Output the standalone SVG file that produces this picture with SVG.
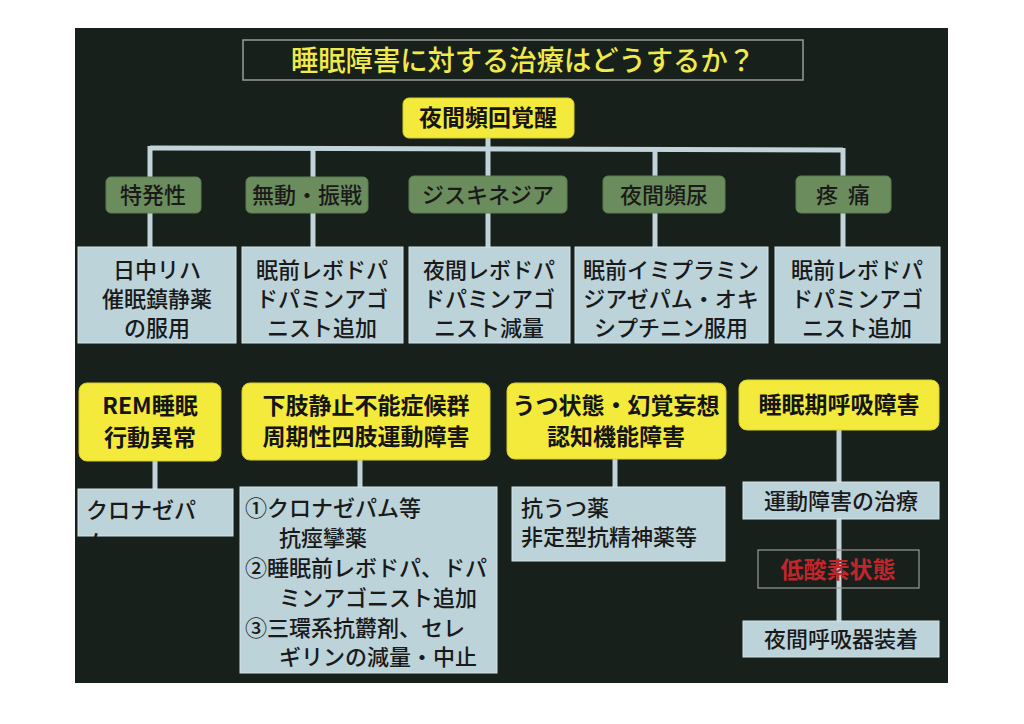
<svg xmlns="http://www.w3.org/2000/svg" width="1024" height="724" viewBox="0 0 1024 724">
<defs>
<style>
.jp{font-family:"Noto Sans CJK JP","Noto Sans CJK SC",sans-serif;}
.conn{stroke:#c3d3da;stroke-width:5;fill:none;}
.yel{fill:#f3ea3b;stroke:#d8cf2a;stroke-width:1;}
.grn{fill:#6b8d5d;stroke:#5d7e50;stroke-width:1;}
.blu{fill:#bcd3da;stroke:#d6e4e8;stroke-width:1;}
.tb{fill:#151515;font-weight:bold;font-size:23px;text-anchor:middle;}
.tg{fill:#1a1a1a;font-size:22px;font-weight:500;text-anchor:middle;}
.tl{fill:#1a1a1a;font-size:22px;font-weight:500;}
.tlc{fill:#1a1a1a;font-size:22px;font-weight:500;text-anchor:middle;}
</style>
<clipPath id="clipK"><rect x="78" y="489" width="155" height="48"/></clipPath>
</defs>
<rect x="0" y="0" width="1024" height="724" fill="#ffffff"/>
<rect x="75" y="28" width="873" height="655" fill="#17201b"/>

<g id="title">
<rect x="243" y="40" width="560" height="40" fill="none" stroke="#9a9a9a" stroke-width="1.5"/>
<text class="jp" x="523" y="71" font-size="28" font-weight="500" fill="#f0ea4a" text-anchor="middle" textLength="464" lengthAdjust="spacingAndGlyphs">睡眠障害に対する治療はどうするか？</text>
</g>

<g id="connectors">
<line class="conn" x1="488" y1="138" x2="488" y2="148"/>
<line class="conn" x1="150" y1="148" x2="843" y2="150"/>
<line class="conn" x1="150" y1="146" x2="150" y2="247"/>
<line class="conn" x1="313" y1="148" x2="313" y2="247"/>
<line class="conn" x1="488" y1="148" x2="488" y2="247"/>
<line class="conn" x1="655" y1="149" x2="655" y2="247"/>
<line class="conn" x1="843" y1="148" x2="843" y2="247"/>
<line class="conn" x1="155" y1="461" x2="155" y2="489"/>
<line class="conn" x1="360" y1="460" x2="360" y2="487"/>
<line class="conn" x1="615" y1="459" x2="615" y2="487"/>
<line class="conn" x1="839" y1="430" x2="839" y2="621"/>
</g>

<g id="n_top">
<rect class="yel" x="403" y="98" width="171" height="40" rx="6"/>
<text class="jp tb" x="488" y="126">夜間頻回覚醒</text>
</g>

<g id="g_tokuhatsu">
<rect class="grn" x="106" y="177" width="95" height="36" rx="5"/>
<text class="jp tg" x="153" y="203">特発性</text>
</g>
<g id="g_mudou">
<rect class="grn" x="246" y="177" width="122" height="36" rx="5"/>
<text class="jp tg" x="307" y="203">無動・振戦</text>
</g>
<g id="g_dysk">
<rect class="grn" x="409" y="176" width="158" height="37" rx="5"/>
<text class="jp tg" x="488" y="203">ジスキネジア</text>
</g>
<g id="g_hinnyo">
<rect class="grn" x="603" y="176" width="122" height="37" rx="5"/>
<text class="jp tg" x="664" y="203">夜間頻尿</text>
</g>
<g id="g_tootsu">
<rect class="grn" x="796" y="176" width="95" height="37" rx="5"/>
<text class="jp tg" x="843" y="203" xml:space="preserve">疼  痛</text>
</g>

<g id="b1">
<rect class="blu" x="78" y="247" width="158" height="96"/>
<text class="jp tlc" x="157" y="278">日中リハ</text>
<text class="jp tlc" x="157" y="307">催眠鎮静薬</text>
<text class="jp tlc" x="157" y="336">の服用</text>
</g>
<g id="b2">
<rect class="blu" x="242" y="247" width="161" height="96"/>
<text class="jp tlc" x="322" y="278">眠前レボドパ</text>
<text class="jp tlc" x="322" y="307">ドパミンアゴ</text>
<text class="jp tlc" x="322" y="336">ニスト追加</text>
</g>
<g id="b3">
<rect class="blu" x="409" y="247" width="161" height="96"/>
<text class="jp tlc" x="489" y="278">夜間レボドパ</text>
<text class="jp tlc" x="489" y="307">ドパミンアゴ</text>
<text class="jp tlc" x="489" y="336">ニスト減量</text>
</g>
<g id="b4">
<rect class="blu" x="575" y="247" width="193" height="96"/>
<text class="jp tlc" x="671" y="278">眠前イミプラミン</text>
<text class="jp tlc" x="671" y="307">ジアゼパム・オキ</text>
<text class="jp tlc" x="671" y="336">シプチニン服用</text>
</g>
<g id="b5">
<rect class="blu" x="775" y="247" width="165" height="96"/>
<text class="jp tlc" x="857" y="278">眠前レボドパ</text>
<text class="jp tlc" x="857" y="307">ドパミンアゴ</text>
<text class="jp tlc" x="857" y="336">ニスト追加</text>
</g>

<g id="y_rem">
<rect class="yel" x="79" y="383" width="142" height="78" rx="8"/>
<text class="jp tb" x="150" y="414">REM睡眠</text>
<text class="jp tb" x="150" y="446">行動異常</text>
</g>
<g id="y_rls">
<rect class="yel" x="242" y="383" width="248" height="77" rx="8"/>
<text class="jp tb" x="366" y="414">下肢静止不能症候群</text>
<text class="jp tb" x="366" y="445">周期性四肢運動障害</text>
</g>
<g id="y_utsu">
<rect class="yel" x="507" y="383" width="219" height="76" rx="8"/>
<text class="jp tb" x="616" y="414">うつ状態・幻覚妄想</text>
<text class="jp tb" x="616" y="445">認知機能障害</text>
</g>
<g id="y_sas">
<rect class="yel" x="739" y="380" width="200" height="50" rx="8"/>
<text class="jp tb" x="839" y="413">睡眠期呼吸障害</text>
</g>

<g id="c_clona">
<rect class="blu" x="78" y="489" width="155" height="47"/>
<text class="jp tl" x="86" y="518">クロナゼパ</text>
<text class="jp tl" x="86" y="550" clip-path="url(#clipK)">ム</text>
</g>
<g id="c_rls">
<rect class="blu" x="240" y="487" width="257" height="186"/>
<text class="jp tl" x="245" y="516">①クロナゼパム等</text>
<text class="jp tl" x="279" y="546">抗痙攣薬</text>
<text class="jp tl" x="245" y="576">②睡眠前レボドパ、ドパ</text>
<text class="jp tl" x="279" y="606">ミンアゴニスト追加</text>
<text class="jp tl" x="245" y="636">③三環系抗欝剤、セレ</text>
<text class="jp tl" x="279" y="665">ギリンの減量・中止</text>
</g>
<g id="c_utsu">
<rect class="blu" x="512" y="487" width="213" height="74"/>
<text class="jp tl" x="521" y="516" font-size="23">抗うつ薬</text>
<text class="jp tl" x="521" y="545" font-size="23">非定型抗精神薬等</text>
</g>
<g id="c_undo">
<rect class="blu" x="743" y="482" width="196" height="37"/>
<text class="jp tlc" x="841" y="509" font-size="23">運動障害の治療</text>
</g>
<g id="c_hypox">
<rect x="758" y="550" width="161" height="38" fill="none" stroke="#9a9a9a" stroke-width="1.2"/>
<text class="jp" x="838" y="578" font-size="23" font-weight="bold" fill="#c0262c" text-anchor="middle">低酸素状態</text>
</g>
<g id="c_cpap">
<rect class="blu" x="743" y="621" width="196" height="36"/>
<text class="jp tlc" x="841" y="647" font-size="23">夜間呼吸器装着</text>
</g>
</svg>
